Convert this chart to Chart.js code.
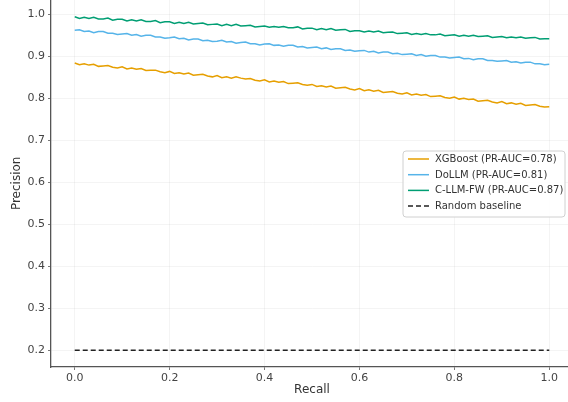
<!DOCTYPE html>
<html>
<head>
<meta charset="utf-8">
<script src="https://cdn.jsdelivr.net/npm/chart.js@4.4.1/dist/chart.umd.min.js"></script>
<style>
html,body{margin:0;padding:0;background:#fff;overflow:hidden;width:568px;height:402px;}
#wrap{position:absolute;left:0;top:-10px;width:574px;height:412px;}
</style>
</head>
<body>
<div id="wrap"><canvas id="c" width="574" height="412"></canvas></div>
<script>
// ---- data ----
const recall = [0,0.01,0.02,0.03,0.04,0.05,0.06,0.07,0.08,0.09,
0.10,0.11,0.12,0.13,0.14,0.15,0.16,0.17,0.18,0.19,
0.20,0.21,0.22,0.23,0.24,0.25,0.26,0.27,0.28,0.29,
0.30,0.31,0.32,0.33,0.34,0.35,0.36,0.37,0.38,0.39,
0.40,0.41,0.42,0.43,0.44,0.45,0.46,0.47,0.48,0.49,
0.50,0.51,0.52,0.53,0.54,0.55,0.56,0.57,0.58,0.59,
0.60,0.61,0.62,0.63,0.64,0.65,0.66,0.67,0.68,0.69,
0.70,0.71,0.72,0.73,0.74,0.75,0.76,0.77,0.78,0.79,
0.80,0.81,0.82,0.83,0.84,0.85,0.86,0.87,0.88,0.89,
0.90,0.91,0.92,0.93,0.94,0.95,0.96,0.97,0.98,0.99,1.00];

const xgboostPrecision = [0.884,0.880,0.882,0.879,0.881,0.876,0.877,0.878,0.874,0.872,
0.875,0.870,0.872,0.869,0.871,0.866,0.867,0.867,0.863,0.861,
0.864,0.859,0.861,0.858,0.860,0.855,0.856,0.857,0.853,0.851,
0.854,0.849,0.851,0.848,0.851,0.848,0.846,0.847,0.843,0.841,
0.844,0.839,0.841,0.838,0.840,0.835,0.836,0.837,0.833,0.831,
0.833,0.828,0.830,0.827,0.829,0.824,0.825,0.826,0.822,0.820,
0.823,0.818,0.820,0.817,0.819,0.814,0.815,0.816,0.812,0.810,
0.813,0.808,0.810,0.807,0.809,0.804,0.805,0.806,0.802,0.800,
0.803,0.798,0.800,0.797,0.798,0.793,0.794,0.795,0.791,0.789,
0.792,0.787,0.789,0.786,0.788,0.783,0.784,0.785,0.781,0.779,0.780];

const dollmPrecision = [0.962,0.963,0.959,0.960,0.956,0.959,0.959,0.955,0.955,0.952,
0.953,0.954,0.950,0.952,0.948,0.950,0.950,0.946,0.946,0.943,
0.944,0.946,0.942,0.943,0.939,0.941,0.941,0.937,0.938,0.935,
0.936,0.938,0.934,0.935,0.931,0.933,0.934,0.930,0.930,0.927,
0.929,0.930,0.926,0.927,0.924,0.926,0.926,0.922,0.923,0.920,
0.921,0.922,0.918,0.920,0.916,0.918,0.918,0.914,0.915,0.912,
0.913,0.914,0.910,0.912,0.908,0.910,0.910,0.906,0.907,0.904,
0.905,0.906,0.902,0.904,0.900,0.902,0.902,0.898,0.898,0.896,
0.897,0.898,0.894,0.895,0.892,0.894,0.894,0.890,0.890,0.888,
0.889,0.890,0.886,0.887,0.884,0.886,0.886,0.882,0.882,0.880,0.881];

const cllmfwPrecision = [0.994,0.990,0.993,0.990,0.993,0.989,0.989,0.991,0.986,0.988,
0.988,0.984,0.987,0.984,0.987,0.983,0.983,0.985,0.980,0.982,
0.982,0.978,0.981,0.978,0.981,0.977,0.978,0.979,0.975,0.976,
0.977,0.973,0.976,0.973,0.976,0.972,0.973,0.974,0.970,0.971,
0.972,0.969,0.971,0.969,0.971,0.968,0.968,0.970,0.965,0.967,
0.967,0.963,0.966,0.963,0.966,0.962,0.963,0.964,0.959,0.961,
0.961,0.958,0.960,0.958,0.960,0.956,0.957,0.958,0.954,0.955,
0.956,0.952,0.954,0.952,0.954,0.951,0.951,0.953,0.949,0.950,
0.951,0.948,0.950,0.948,0.950,0.947,0.948,0.949,0.945,0.946,
0.947,0.944,0.946,0.944,0.946,0.943,0.944,0.945,0.941,0.942,0.942];

const baselineRecall = [0, 1];
const baselinePrecision = [0.2, 0.2];

const seriesLabels = ["XGBoost (PR-AUC=0.78)", "DoLLM (PR-AUC=0.81)", "C-LLM-FW (PR-AUC=0.87)", "Random baseline"];
const xTicks = [0, 0.2, 0.4, 0.6, 0.8, 1.0];
const xTickLabels = ["0.0", "0.2", "0.4", "0.6", "0.8", "1.0"];
const yTicks = [0.2, 0.3, 0.4, 0.5, 0.6, 0.7, 0.8, 0.9, 1.0];
const yTickLabels = ["0.2", "0.3", "0.4", "0.5", "0.6", "0.7", "0.8", "0.9", "1.0"];

// ---- chart ----
const pts = (xs, ys) => xs.map((x, i) => ({x: x, y: ys[i]}));
const FONT = "'DejaVu Sans', sans-serif";
const CANVAS_TOP = -10;

const legendPlugin = {
  id: 'boxLegend',
  afterDraw(chart) {
    const ctx = chart.ctx;
    const x0 = 403, y0 = 151 - CANVAS_TOP, w = 162, h = 66;
    ctx.save();
    ctx.beginPath();
    const r = 3;
    ctx.moveTo(x0 + r, y0);
    ctx.arcTo(x0 + w, y0, x0 + w, y0 + h, r);
    ctx.arcTo(x0 + w, y0 + h, x0, y0 + h, r);
    ctx.arcTo(x0, y0 + h, x0, y0, r);
    ctx.arcTo(x0, y0, x0 + w, y0, r);
    ctx.closePath();
    ctx.fillStyle = 'rgba(255,255,255,0.85)';
    ctx.fill();
    ctx.strokeStyle = '#d0d0d0';
    ctx.lineWidth = 1;
    ctx.stroke();
    chart.data.datasets.forEach((ds, i) => {
      const yy = y0 + 8 + i * 15.7;
      ctx.beginPath();
      ctx.setLineDash(ds.borderDash || []);
      ctx.strokeStyle = ds.borderColor;
      ctx.lineWidth = ds.borderWidth;
      ctx.moveTo(x0 + 5, yy);
      ctx.lineTo(x0 + 26, yy);
      ctx.stroke();
      ctx.setLineDash([]);
      ctx.fillStyle = '#333';
      ctx.font = '10px ' + FONT;
      ctx.textBaseline = 'middle';
      ctx.fillText(ds.label, x0 + 32, yy + 0.5);
    });
    ctx.restore();
  }
};

new Chart(document.getElementById('c'), {
  type: 'line',
  data: {
    datasets: [
      {label: seriesLabels[0], data: pts(recall, xgboostPrecision), borderColor: '#E69F00', borderWidth: 1.5, pointRadius: 0, fill: false, tension: 0},
      {label: seriesLabels[1], data: pts(recall, dollmPrecision), borderColor: '#56B4E9', borderWidth: 1.5, pointRadius: 0, fill: false, tension: 0},
      {label: seriesLabels[2], data: pts(recall, cllmfwPrecision), borderColor: '#009E73', borderWidth: 1.5, pointRadius: 0, fill: false, tension: 0},
      {label: seriesLabels[3], data: pts(baselineRecall, baselinePrecision), borderColor: '#222', borderWidth: 1.5, borderDash: [5, 3], pointRadius: 0, fill: false, tension: 0}
    ]
  },
  options: {
    responsive: false,
    animation: false,
    layout: {padding: {top: 0, right: 1, left: 0, bottom: 0}},
    plugins: {legend: {display: false}, tooltip: {enabled: false}},
    scales: {
      x: {
        type: 'linear', min: -0.05, max: 1.05,
        afterBuildTicks: s => { s.ticks = xTicks.map(v => ({value: v})); },
        afterFit: s => { s.height = 35; },
        ticks: {callback: (v) => xTickLabels[xTicks.findIndex(t => Math.abs(t - v) < 1e-9)], color: '#444', font: {family: FONT, size: 11}, padding: 2, maxRotation: 0, autoSkip: false},
        grid: {color: 'rgba(0,0,0,0.06)', lineWidth: 0.8, tickColor: '#555', tickLength: 3},
        border: {color: '#555', width: 1.3},
        title: {display: true, text: 'Recall', color: '#333', font: {family: FONT, size: 12}, padding: {top: 0, bottom: 5}}
      },
      y: {
        type: 'linear', min: 0.16, max: 1.035,
        afterBuildTicks: s => { s.ticks = yTicks.map(v => ({value: v})); },
        afterFit: s => { s.width = 51; },
        ticks: {callback: (v) => yTickLabels[yTicks.findIndex(t => Math.abs(t - v) < 1e-9)], color: '#444', font: {family: FONT, size: 11}, padding: 3, autoSkip: false},
        grid: {color: 'rgba(0,0,0,0.06)', lineWidth: 0.8, tickColor: '#555', tickLength: 3},
        border: {color: '#555', width: 1.3},
        title: {display: true, text: 'Precision', color: '#333', font: {family: FONT, size: 12}, padding: {top: 10, bottom: 0}}
      }
    }
  },
  plugins: [legendPlugin]
});
</script>
</body>
</html>
